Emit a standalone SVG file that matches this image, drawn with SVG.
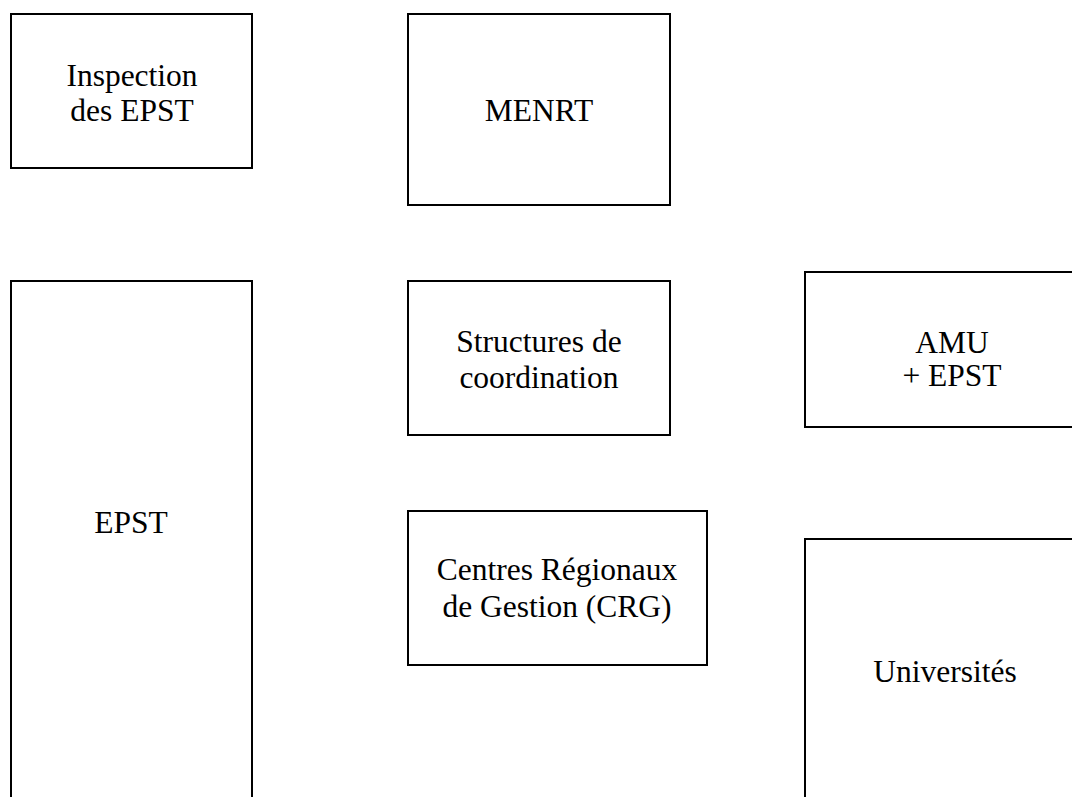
<svg xmlns="http://www.w3.org/2000/svg" width="1072" height="797" viewBox="0 0 1072 797">
<style>
.box{fill:#fff;stroke:#000;stroke-width:2}
.t{font-family:"Liberation Serif","Times New Roman",serif;font-size:31.5px;fill:#000;text-anchor:middle}
</style>
<rect width="1072" height="797" fill="#fff"/>
<g id="connectors"></g>
<g id="inspection">
<rect class="box" x="11" y="14" width="241" height="154"/>
<text class="t" x="132" y="86">Inspection</text>
<text class="t" x="132" y="121">des EPST</text>
</g>
<g id="menrt">
<rect class="box" x="408" y="14" width="262" height="191"/>
<text class="t" x="539" y="121">MENRT</text>
</g>
<g id="epst">
<rect class="box" x="11" y="281" width="241" height="540"/>
<text class="t" x="131" y="533">EPST</text>
</g>
<g id="structures">
<rect class="box" x="408" y="281" width="262" height="154"/>
<text class="t" x="539" y="352">Structures de</text>
<text class="t" x="539" y="388">coordination</text>
</g>
<g id="amu">
<rect class="box" x="805" y="272" width="290" height="155"/>
<text class="t" x="952" y="353">AMU</text>
<text class="t" x="952" y="386">+ EPST</text>
</g>
<g id="crg">
<rect class="box" x="408" y="511" width="299" height="154"/>
<text class="t" x="557" y="580">Centres Régionaux</text>
<text class="t" x="557" y="617">de Gestion (CRG)</text>
</g>
<g id="universites">
<rect class="box" x="805" y="539" width="290" height="300"/>
<text class="t" x="945" y="682">Universités</text>
</g>
</svg>
